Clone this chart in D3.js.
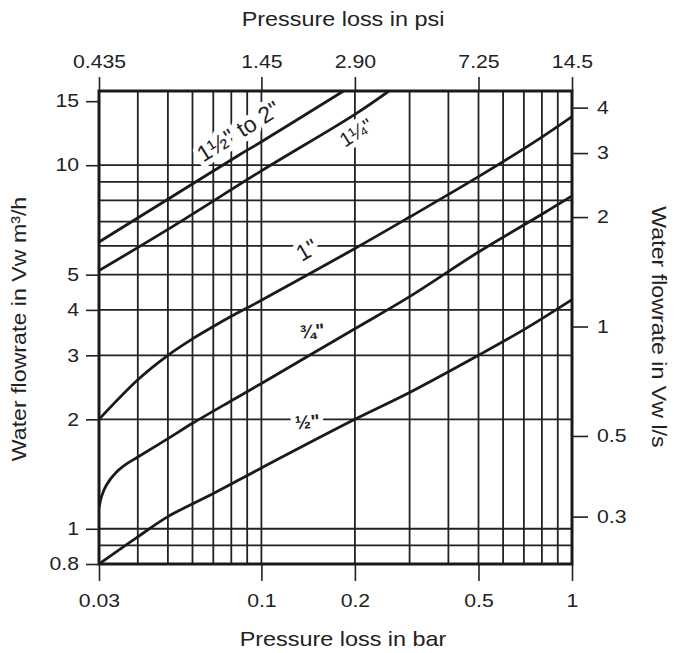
<!DOCTYPE html>
<html>
<head>
<meta charset="utf-8">
<script src="https://cdn.jsdelivr.net/npm/d3@7"></script>
<style>
  body { margin: 0; background: #fff; }
  svg { font-family: "Liberation Sans", Arial, sans-serif; }
  .grid line { stroke: #222; stroke-width: 1.8; }
  .axis path { display: none; }
  .axis line { stroke: #222; stroke-width: 1.6; }
  .axis text { font-size: 18px; fill: #222; }
  .title { font-size: 20px; fill: #222; }
  .curve { fill: none; stroke: #1a1a1a; stroke-width: 2.8; stroke-linejoin: round; }
  .frame { fill: none; stroke: #1a1a1a; stroke-width: 3; }
  .size-label { fill: #222; stroke: #fff; stroke-width: 10; paint-order: stroke; stroke-linejoin: round; }
</style>
</head>
<body>
<svg id="chart" width="675" height="653"></svg>
<script>
// pressure loss (bar) against water flowrate (m3/h)
var pressureHalf = [0.03, 0.04, 0.05, 0.07, 0.1, 0.2, 0.3, 0.5, 0.7, 1.0];
var flowHalf     = [0.80, 0.95, 1.08, 1.25, 1.47, 2.0, 2.37, 3.0, 3.53, 4.27];

var pressureThreeQuarter = [0.03, 0.0306, 0.0317, 0.0341, 0.0369, 0.04, 0.05, 0.06, 0.08, 0.1, 0.2, 0.3, 0.5, 0.8, 1.0];
var flowThreeQuarter     = [1.14, 1.23, 1.32, 1.43, 1.51, 1.575, 1.77, 1.95, 2.25, 2.51, 3.55, 4.35, 5.77, 7.33, 8.23];

var pressureOne = [0.03, 0.04, 0.05, 0.06, 0.07, 0.08, 0.1, 0.2, 0.3, 0.5, 0.8, 1.0];
var flowOne     = [2.0, 2.57, 3.0, 3.33, 3.6, 3.84, 4.25, 5.9, 7.2, 9.3, 11.95, 13.6];

var pressureQuarter = [0.03, 0.05, 0.1, 0.2, 0.26];
var flowQuarter     = [5.13, 6.66, 9.65, 13.8, 16.1];

var pressureTwo = [0.03, 0.05, 0.0853, 0.1, 0.186];
var flowTwo     = [6.15, 8.06, 10.7, 11.6, 16.1];

var sizeNames = ["1\u00BD\" to 2\"", "1\u00BC\"", "1\"", "\u00BE\"", "\u00BD\""];
// where each size name sits, in bar and m3/h
var namePressure = [0.0843, 0.2016, 0.140, 0.1455, 0.1405];
var nameFlow     = [12.4, 12.3, 5.85, 3.5, 1.97];

var barTicks = [0.03, 0.1, 0.2, 0.5, 1];
var psiTicks = [0.435, 1.45, 2.90, 7.25, 14.5];
var psiLabels = ["0.435", "1.45", "2.90", "7.25", "14.5"];
var flowTicks = [0.8, 1, 2, 3, 4, 5, 10, 15];
var litreTicks = [0.3, 0.5, 1, 2, 3, 4];

var barGrid = [0.04, 0.05, 0.06, 0.07, 0.08, 0.09, 0.1, 0.2, 0.3, 0.4, 0.5, 0.6, 0.7, 0.8, 0.9];
var flowGrid = [0.9, 1, 2, 3, 4, 5, 6, 7, 8, 9, 10];

var params = {
  "svg": { "width": 675, "height": 653 },
  "margin": { "top": 91, "right": 103, "bottom": 89, "left": 99 }
};
params.plot = {
  "x": params.margin.left,
  "y": params.margin.top,
  "width": params.svg.width - params.margin.left - params.margin.right,
  "height": params.svg.height - params.margin.top - params.margin.bottom
};

var stretch = 1.18;

// the printed grid runs a little past 15 at the top edge
var scale = {
  "x": d3.scaleLog().domain([0.03, 1]).range([0, params.plot.width]),
  "y": d3.scaleLog().domain([0.8, 16]).range([params.plot.height, 0])
};
scale.psi = d3.scaleLog().domain([0.03 * 14.5, 14.5]).range(scale.x.range());
scale.litre = d3.scaleLog().domain(scale.y.domain().map(function(d) { return d / 3.6; })).range(scale.y.range());

function translate(x, y) {
  return "translate(" + x + "," + y + ")";
}

// widen axis labels the way the printed chart does
function widen(sel, k) {
  sel.each(function() {
    var t = d3.select(this);
    var x0 = +t.attr("x") || 0;
    t.attr("x", 0).attr("transform", translate(x0, 0) + " scale(" + k + ",1)");
  });
}

var svg = d3.select("#chart");
var plot = svg.append("g").attr("transform", translate(params.plot.x, params.plot.y));

plot.append("clipPath").attr("id", "clip")
  .append("rect")
  .attr("width", params.plot.width)
  .attr("height", params.plot.height);

// grid
var grid = plot.append("g").attr("class", "grid");
grid.selectAll("line.v").data(barGrid).enter().append("line")
  .attr("class", "v")
  .attr("x1", function(d) { return scale.x(d); })
  .attr("x2", function(d) { return scale.x(d); })
  .attr("y1", 0)
  .attr("y2", params.plot.height);
grid.selectAll("line.h").data(flowGrid).enter().append("line")
  .attr("class", "h")
  .attr("y1", function(d) { return scale.y(d); })
  .attr("y2", function(d) { return scale.y(d); })
  .attr("x1", 0)
  .attr("x2", params.plot.width);

// size names, with a white halo that breaks the grid
var names = sizeNames.map(function(n, i) {
  return { "text": n, "p": namePressure[i], "q": nameFlow[i], "i": i };
});
plot.selectAll("text.size-label").data(names).enter().append("text")
  .attr("class", "size-label")
  .attr("text-anchor", "middle")
  .attr("dy", "0.35em")
  .style("font-size", function(d) { return [23, 20, 23, 19, 19][d.i] + "px"; })
  .style("font-weight", function(d) { return d.i > 2 ? "bold" : "normal"; })
  .attr("transform", function(d) {
    return translate(scale.x(d.p), scale.y(d.q)) + " rotate(" + [-32, -32, -30, -5, -5][d.i] + ")";
  })
  .text(function(d) { return d.text; });

plot.append("rect")
  .attr("class", "frame")
  .attr("width", params.plot.width)
  .attr("height", params.plot.height);

// curves
var series = [
  [pressureHalf, flowHalf],
  [pressureThreeQuarter, flowThreeQuarter],
  [pressureOne, flowOne],
  [pressureQuarter, flowQuarter],
  [pressureTwo, flowTwo]
];
var line = d3.line()
  .x(function(d) { return scale.x(d[0]); })
  .y(function(d) { return scale.y(d[1]); })
  .curve(d3.curveCatmullRom.alpha(0.5));

plot.append("g").attr("clip-path", "url(#clip)")
  .selectAll("path").data(series).enter().append("path")
  .attr("class", "curve")
  .attr("d", function(s) { return line(d3.zip(s[0], s[1])); });

// axes
var gBottom = svg.append("g").attr("class", "axis")
  .attr("transform", translate(params.plot.x, params.plot.y + params.plot.height))
  .call(d3.axisBottom(scale.x).tickValues(barTicks).tickSize(17).tickPadding(13)
    .tickFormat(function(d) { return String(d); }));
widen(gBottom.selectAll("text"), stretch);

var gTop = svg.append("g").attr("class", "axis")
  .attr("transform", translate(params.plot.x, params.plot.y))
  .call(d3.axisTop(scale.psi).tickValues(psiTicks).tickSize(14).tickPadding(9)
    .tickFormat(function(d, i) { return psiLabels[i]; }));
widen(gTop.selectAll("text"), stretch);

var gLeft = svg.append("g").attr("class", "axis")
  .attr("transform", translate(params.plot.x, params.plot.y))
  .call(d3.axisLeft(scale.y).tickValues(flowTicks).tickSize(13).tickPadding(7)
    .tickFormat(function(d) { return String(d); }));
widen(gLeft.selectAll("text"), stretch);

var gRight = svg.append("g").attr("class", "axis")
  .attr("transform", translate(params.plot.x + params.plot.width, params.plot.y))
  .call(d3.axisRight(scale.litre).tickValues(litreTicks).tickSize(16).tickPadding(9)
    .tickFormat(function(d) { return String(d); }));
widen(gRight.selectAll("text"), stretch);

// titles
var cx = 343;
svg.append("text").attr("class", "title")
  .attr("text-anchor", "middle")
  .attr("transform", translate(cx, 26) + " scale(1.17,1)")
  .text("Pressure loss in psi");

svg.append("text").attr("class", "title")
  .attr("text-anchor", "middle")
  .attr("transform", translate(cx, 646) + " scale(1.17,1)")
  .text("Pressure loss in bar");

svg.append("text").attr("class", "title")
  .attr("text-anchor", "middle")
  .attr("transform", translate(26, 329) + " rotate(-90) scale(1.16,1)")
  .text("Water flowrate in Vw m\u00B3/h");

svg.append("text").attr("class", "title")
  .attr("text-anchor", "middle")
  .attr("transform", translate(652, 327) + " rotate(90) scale(1.16,1)")
  .text("Water flowrate in Vw l/s");
</script>
</body>
</html>
